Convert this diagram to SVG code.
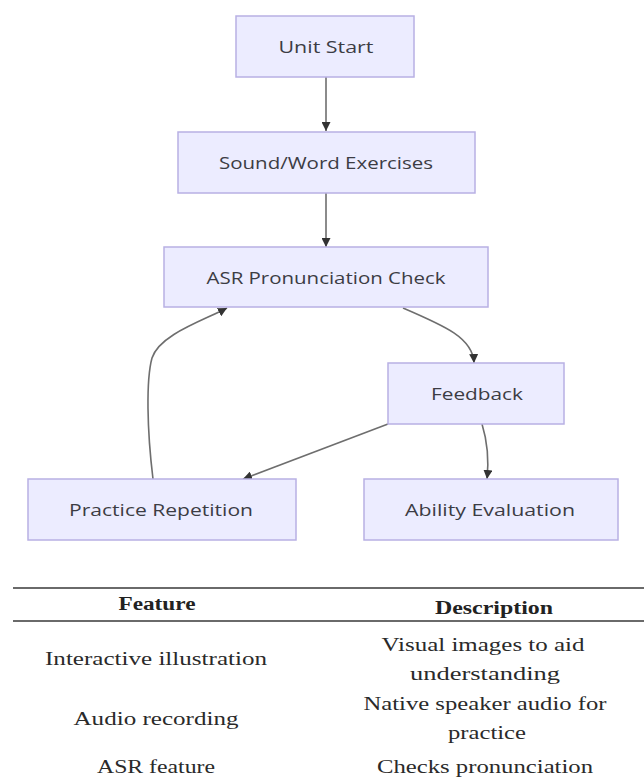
<svg xmlns="http://www.w3.org/2000/svg" width="644" height="783" viewBox="0 0 644 783">
<style>
.node rect{fill:#ECECFF;stroke:#b8b0e4;stroke-width:1.5}
.node text{font-family:"Open Sans","DejaVu Sans",sans-serif;font-size:17px;fill:#3c3c44;text-anchor:middle;dominant-baseline:central}
.edge{fill:none;stroke:#6e6e6e;stroke-width:1.6}
.rule{stroke:#6a6a6a;stroke-width:2}
.th{font-family:"Liberation Serif","Times New Roman",serif;font-size:18px;font-weight:bold;fill:#222;text-anchor:middle;dominant-baseline:central}
.td{font-family:"Liberation Serif","Times New Roman",serif;font-size:18px;fill:#2a2a2a;text-anchor:middle;dominant-baseline:central}
</style>
<defs>
<marker id="arr" markerUnits="userSpaceOnUse" markerWidth="9" markerHeight="9" viewBox="0 0 10 10" refX="10" refY="5" orient="auto">
<path d="M0,0 L10,5 L0,10 z" fill="#333"/>
</marker>
</defs>
<rect width="644" height="783" fill="#ffffff"/>
<g id="connectors">
<path class="edge" d="M326,77 L326,131" marker-end="url(#arr)"/>
<path class="edge" d="M326,193 L326,247" marker-end="url(#arr)"/>
<path class="edge" d="M403,308 C445,326 473,338 474,363" marker-end="url(#arr)"/>
<path class="edge" d="M388,424 L243,479" marker-end="url(#arr)"/>
<path class="edge" d="M482,424 Q490,450 487,479" marker-end="url(#arr)"/>
<path class="edge" d="M153,479 C147,430 146,380 152,358 C160,334 205,320 227,308" marker-end="url(#arr)"/>
</g>
<g id="n-unit-start" class="node">
<rect x="236" y="16" width="178" height="61"/>
<text x="326" y="46" textLength="95" lengthAdjust="spacingAndGlyphs">Unit Start</text>
</g>
<g id="n-sound-word" class="node">
<rect x="178" y="132" width="297" height="61"/>
<text x="326" y="162" textLength="214" lengthAdjust="spacingAndGlyphs">Sound/Word Exercises</text>
</g>
<g id="n-asr" class="node">
<rect x="164" y="247" width="324" height="60"/>
<text x="326" y="277" textLength="239" lengthAdjust="spacingAndGlyphs">ASR Pronunciation Check</text>
</g>
<g id="n-feedback" class="node">
<rect x="388" y="363" width="176" height="61"/>
<text x="477" y="393" textLength="92" lengthAdjust="spacingAndGlyphs">Feedback</text>
</g>
<g id="n-practice" class="node">
<rect x="28" y="479" width="268" height="61"/>
<text x="161" y="509" textLength="184" lengthAdjust="spacingAndGlyphs">Practice Repetition</text>
</g>
<g id="n-ability" class="node">
<rect x="364" y="479" width="254" height="61"/>
<text x="490" y="509" textLength="170" lengthAdjust="spacingAndGlyphs">Ability Evaluation</text>
</g>
<g id="table">
<line class="rule" x1="13" y1="588" x2="644" y2="588"/>
<line class="rule" x1="13" y1="621" x2="644" y2="621"/>
<text class="th" x="157" y="604" textLength="77" lengthAdjust="spacingAndGlyphs">Feature</text>
<text class="th" x="494" y="608" textLength="118" lengthAdjust="spacingAndGlyphs">Description</text>
<text class="td" x="156" y="659" textLength="222" lengthAdjust="spacingAndGlyphs">Interactive illustration</text>
<text class="td" x="483" y="645" textLength="203" lengthAdjust="spacingAndGlyphs">Visual images to aid</text>
<text class="td" x="485" y="674" textLength="150" lengthAdjust="spacingAndGlyphs">understanding</text>
<text class="td" x="156" y="719" textLength="165" lengthAdjust="spacingAndGlyphs">Audio recording</text>
<text class="td" x="485" y="704" textLength="243" lengthAdjust="spacingAndGlyphs">Native speaker audio for</text>
<text class="td" x="487" y="733" textLength="78" lengthAdjust="spacingAndGlyphs">practice</text>
<text class="td" x="156" y="767" textLength="118" lengthAdjust="spacingAndGlyphs">ASR feature</text>
<text class="td" x="485" y="767" textLength="216" lengthAdjust="spacingAndGlyphs">Checks pronunciation</text>
</g>
</svg>
